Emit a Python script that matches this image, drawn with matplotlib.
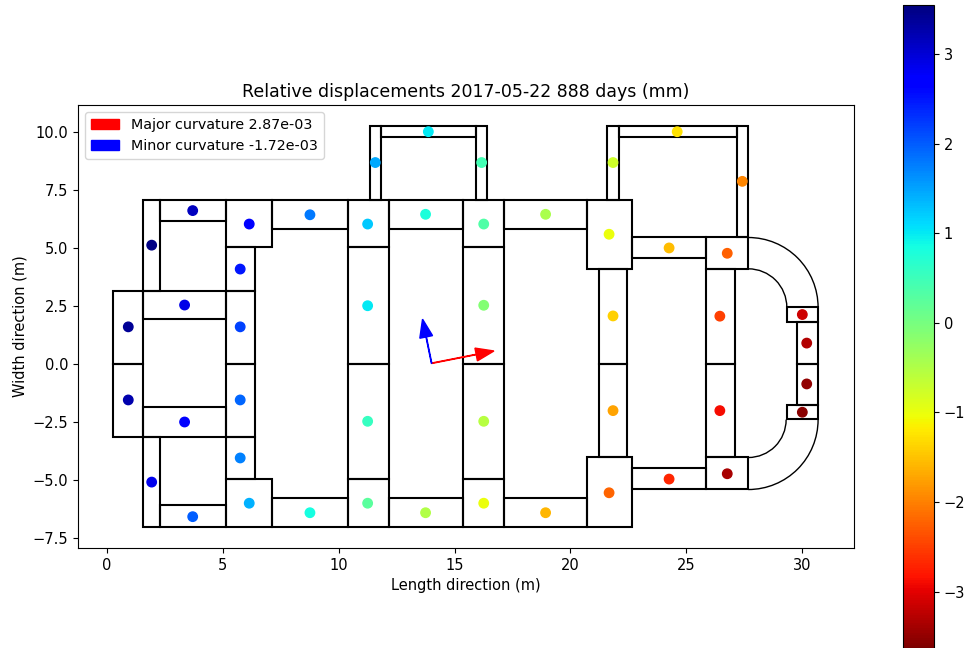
import matplotlib
matplotlib.use("Agg")
import matplotlib.pyplot as plt
from matplotlib.patches import Rectangle, Arc

plt.rcParams['font.size'] = 10.5

# Deck outline, one (x0, y0, x1, y1) per panel (m)
panels_top = [
    (1.57, 3.16, 2.29, 7.05), (2.29, 6.18, 5.12, 7.05), (5.12, 5.06, 7.13, 7.05),
    (5.12, 3.16, 6.39, 5.06), (7.13, 5.82, 10.39, 7.05), (10.39, 5.06, 12.16, 7.05),
    (10.39, 0.0, 12.16, 5.06), (12.16, 5.82, 15.38, 7.05), (15.38, 5.06, 17.13, 7.05),
    (15.38, 0.0, 17.13, 5.06), (17.13, 5.82, 20.70, 7.05), (20.70, 4.11, 22.64, 7.05),
    (21.23, 0.0, 22.46, 4.11), (0.27, 0.0, 1.57, 3.16), (1.57, 1.94, 5.12, 3.16),
    (5.12, 0.0, 6.39, 3.16), (11.35, 7.05, 11.84, 10.26), (11.84, 9.77, 15.91, 10.26),
    (15.91, 7.05, 16.41, 10.26), (21.60, 7.05, 22.08, 10.26), (22.08, 9.77, 27.17, 10.26),
    (27.17, 5.46, 27.68, 10.26), (22.64, 4.55, 25.85, 5.46), (25.85, 4.11, 27.68, 5.46),
    (25.85, 0.0, 27.09, 4.11), (29.33, 1.79, 30.69, 2.44), (29.80, 0.0, 30.69, 1.79),
]
panels_bottom = [
    (1.57, -7.01, 2.29, -3.15), (2.29, -7.01, 5.12, -6.09), (5.12, -7.01, 7.13, -4.97),
    (5.12, -4.97, 6.39, -3.15), (7.13, -7.01, 10.39, -5.79), (10.39, -7.01, 12.16, -4.97),
    (10.39, -4.97, 12.16, 0.0), (12.16, -7.01, 15.38, -5.79), (15.38, -7.01, 17.13, -4.97),
    (15.38, -4.97, 17.13, 0.0), (17.13, -7.01, 20.70, -5.79), (20.70, -7.01, 22.64, -4.02),
    (21.23, -4.02, 22.46, 0.0), (0.27, -3.15, 1.57, 0.0), (1.57, -3.15, 5.12, -1.87),
    (5.12, -3.15, 6.39, 0.0), (22.64, -5.40, 25.85, -4.50), (25.85, -5.40, 27.68, -4.02),
    (25.85, -4.02, 27.09, 0.0), (29.33, -2.38, 30.69, -1.75), (29.80, -1.75, 30.69, 0.0),
]

# Curved end of the deck: centre x, centre y, radius, start angle
arc_x = [27.68, 27.68, 27.68, 27.68]
arc_y = [2.44, 2.44, -2.40, -2.40]
arc_r = [3.01, 1.66, 3.01, 1.63]
arc_start = [0, 0, 270, 270]

# Measuring points
point_x = [0.92, 0.92, 1.93, 1.93, 3.70, 3.70, 3.35, 3.35, 6.14, 6.14, 5.75, 5.75, 5.75, 5.75,
           8.76, 8.76, 11.25, 11.25, 11.25, 11.25, 11.58, 13.87, 16.17, 13.75, 13.75,
           16.26, 16.26, 16.26, 16.26, 18.93, 18.93, 21.67, 21.67, 21.84, 21.84, 21.84,
           24.61, 27.42, 24.26, 24.26, 26.77, 26.77, 26.45, 26.45,
           30.01, 30.20, 30.20, 30.01]
point_y = [1.60, -1.55, 5.12, -5.09, 6.61, -6.58, 2.54, -2.50, 6.03, -6.00, 4.09, -4.05, 1.60, -1.55,
           6.43, -6.41, 6.03, 2.51, -2.47, -6.00, 8.68, 10.01, 8.68, 6.45, -6.41,
           6.03, 2.53, -2.47, -6.00, 6.45, -6.41, 5.59, -5.55, 8.68, 2.07, -2.01,
           10.01, 7.87, 5.00, -4.96, 4.77, -4.73, 2.06, -2.01,
           2.13, 0.90, -0.86, -2.08]
displacement = [3.40, 3.25, 3.50, 2.85, 3.15, 2.00, 2.90, 2.75, 2.70, 1.40, 2.50, 1.75, 2.20, 1.95,
                1.80, 0.85, 1.25, 1.00, 0.55, 0.25, 1.45, 1.00, 0.45, 0.80, -0.50,
                0.35, -0.10, -0.55, -1.00, -0.45, -1.60, -1.00, -2.20, -0.75, -1.40, -1.75,
                -1.25, -1.95, -1.55, -2.70, -2.25, -3.35, -2.50, -2.90,
                -3.15, -3.30, -3.50, -3.55]
color_min = -3.63
color_max = 3.55

# Curvature arrows
arrow_origin = (14.01, 0.03)
major_vec = (2.69, 0.53)
minor_vec = (-0.39, 1.90)
major_val = 2.87e-03
minor_val = -1.72e-03

fig = plt.figure(figsize=(9.67, 6.48), dpi=100)
ax = fig.add_axes([78 / 967, 100 / 648, 776 / 967, 443 / 648])

# Panels
for x0, y0, x1, y1 in panels_top + panels_bottom:
    ax.add_patch(Rectangle((x0, y0), x1 - x0, y1 - y0, fill=False, edgecolor='black', linewidth=1.5))

for cx, cy, r, start in zip(arc_x, arc_y, arc_r, arc_start):
    ax.add_patch(Arc((cx, cy), 2 * r, 2 * r, theta1=start, theta2=start + 90, color='black', linewidth=1.0))

sc = ax.scatter(point_x, point_y, c=displacement, s=46, cmap='jet_r', vmin=color_min, vmax=color_max, zorder=3)

# Arrows, the legend takes its patches from these
arrow_style = dict(width=0.02, head_width=0.56, head_length=0.78, length_includes_head=True, zorder=4)
ax.arrow(*arrow_origin, *major_vec, color='red', label=f"Major curvature {major_val:.2e}", **arrow_style)
ax.arrow(*arrow_origin, *minor_vec, color='blue', label=f"Minor curvature {minor_val:.2e}", **arrow_style)

ax.set_xlim(-1.25, 32.24)
ax.set_ylim(-7.93, 11.16)
ax.set_title("Relative displacements 2017-05-22 888 days (mm)", fontsize=12.5)
ax.set_xlabel("Length direction (m)")
ax.set_ylabel("Width direction (m)")
ax.legend(loc='upper left', fontsize=10.3)

cax = fig.add_axes([903 / 967, 0, 31 / 967, 643 / 648])
fig.colorbar(sc, cax=cax)

fig.savefig("out.png", dpi=100)
